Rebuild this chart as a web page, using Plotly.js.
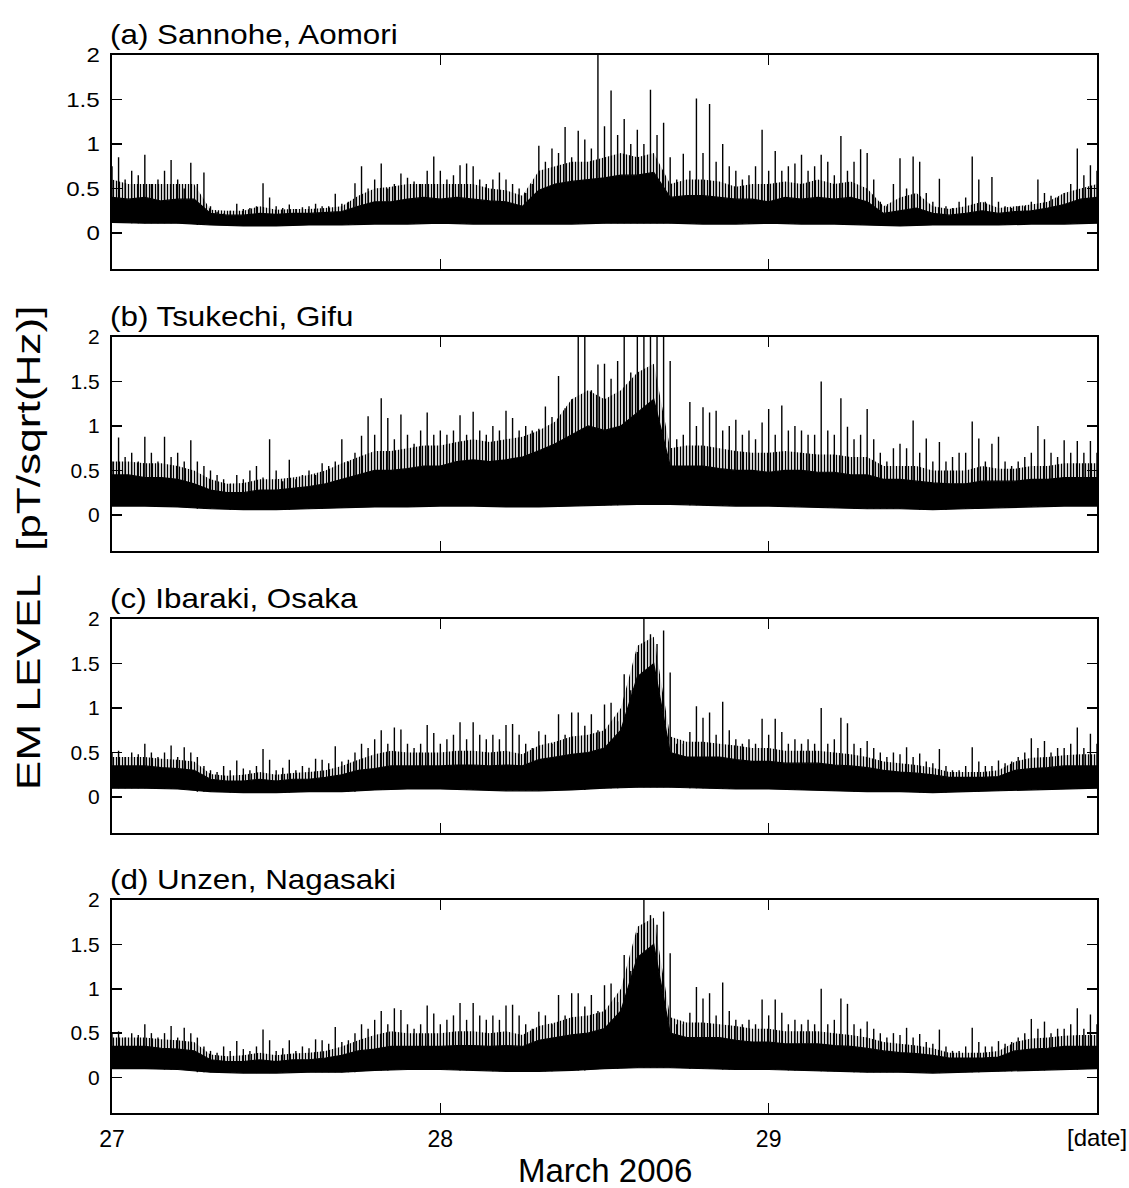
<!DOCTYPE html>
<html>
<head>
<meta charset="utf-8">
<script src="https://cdn.plot.ly/plotly-3.0.1.min.js"></script>
<style>html,body{margin:0;padding:0;background:#fff;}#chart{width:1129px;height:1188px;}</style>
</head>
<body>
<div id="chart"></div>
<script>
// ---------------- data ----------------
const stationNames = ["(a) Sannohe, Aomori", "(b) Tsukechi, Gifu", "(c) Ibaraki, Osaka", "(d) Unzen, Nagasaki"];
const xTickVals = [27, 28, 29, 30];
const xTickText = ["27", "28", "29", ""];
const xEndLabel = "[date]";
const yTickVals = [0, 0.5, 1, 1.5, 2];
const yTickText = ["0", "0.5", "1", "1.5", "2"];

// spike peaks, every 0.02 day from 27.00 to 30.00
const peakStart = 27.0, peakStep = 0.02;
// solid-band top and dense-spike level, every 0.05 day from 27.00 to 30.00
const coreStart = 27.0, coreStep = 0.05;
// lower envelope, every 0.1 day from 27.00 to 30.00
const baseStart = 27.0, baseStep = 0.1;

const sannohePeak = [
 0.75,0.85,0.6,0.7,0.65, 0.88,0.55,0.6,0.7,0.82, 0.6,0.5,0.79,0.55,0.68,
 0.3,0.24,0.22,0.25,0.33, 0.27,0.28,0.3,0.56,0.4, 0.3,0.28,0.32,0.27,0.29,
 0.3,0.33,0.3,0.3,0.44, 0.33,0.35,0.56,0.75,0.5, 0.6,0.78,0.5,0.55,0.67,
 0.62,0.58,0.55,0.7,0.86, 0.7,0.6,0.65,0.76,0.78, 0.75,0.6,0.55,0.6,0.68,
 0.6,0.55,0.5,0.45,0.55, 0.98,0.8,0.95,0.9,1.19, 0.85,1.15,1.05,0.95,2.0,
 1.2,1.6,1.1,1.28,1.0, 1.16,1.0,1.61,1.1,1.24, 0.85,0.6,0.89,0.7,1.51,
 0.9,1.45,0.8,1.0,0.75, 0.7,0.6,0.65,0.75,1.16, 0.7,0.92,0.7,0.75,0.78,
 0.88,0.7,0.75,0.88,0.8, 0.65,1.09,0.7,0.8,0.94, 0.9,0.6,0.35,0.3,0.55,
 0.84,0.5,0.86,0.8,0.45, 0.35,0.61,0.3,0.28,0.35, 0.4,0.86,0.6,0.35,0.63,
 0.35,0.3,0.28,0.3,0.3, 0.35,0.6,0.45,0.42,0.4, 0.45,0.55,0.95,0.65,0.76,
 0.7];
const sannoheDense = [
 0.6,0.55,0.55,0.55,0.55,0.55,0.26,0.25,0.25,0.3,0.26,0.27,0.27,0.28,0.3,0.42,0.5,0.52,0.55,0.55,
 0.55,0.55,0.55,0.5,0.48,0.42,0.7,0.75,0.8,0.8,0.85,0.9,0.85,0.9,0.55,0.6,0.6,0.58,0.52,0.55,
 0.55,0.58,0.55,0.6,0.55,0.58,0.5,0.3,0.4,0.45,0.3,0.27,0.3,0.35,0.28,0.3,0.32,0.35,0.45,0.5,
 0.55];
const sannoheCore = [
 0.4,0.38,0.4,0.36,0.38,0.38,0.22,0.2,0.2,0.22,0.21,0.22,0.22,0.23,0.24,0.3,0.35,0.35,0.38,0.4,
 0.38,0.4,0.38,0.36,0.35,0.3,0.48,0.55,0.58,0.6,0.62,0.65,0.65,0.68,0.4,0.42,0.42,0.4,0.38,0.38,
 0.35,0.4,0.38,0.4,0.38,0.4,0.35,0.22,0.25,0.28,0.22,0.2,0.22,0.25,0.22,0.24,0.25,0.28,0.32,0.38,
 0.4];
const sannoheBase = [0.12,0.11,0.11,0.09,0.08,0.08,0.09,0.09,0.1,0.1,0.11,0.1,0.1,0.1,0.1,0.11,
 0.11,0.11,0.1,0.1,0.11,0.1,0.1,0.09,0.08,0.09,0.09,0.09,0.1,0.1,0.11];

const tsukechiPeak = [
 0.6,0.87,0.65,0.7,0.6, 0.88,0.7,0.6,0.88,0.65, 0.7,0.6,0.84,0.6,0.55,
 0.5,0.45,0.4,0.35,0.45, 0.4,0.5,0.55,0.42,0.85, 0.5,0.38,0.62,0.4,0.45,
 0.5,0.45,0.58,0.55,0.6, 0.85,0.6,0.7,0.89,1.11, 0.9,1.31,1.09,0.85,1.13,
 0.9,0.8,0.95,1.15,0.9, 0.95,0.9,0.95,1.12,0.9, 1.16,0.95,0.9,1.0,0.95,
 1.17,1.09,0.95,1.0,0.95, 0.97,1.22,1.1,1.56,1.2, 1.3,2.0,2.0,1.4,1.69,
 1.7,1.53,1.73,2.0,1.6, 2.0,2.0,2.0,2.0,2.0, 1.73,0.85,0.9,1.27,1.0,
 1.21,1.15,1.17,0.95,1.0, 1.07,0.9,0.95,0.85,1.04, 1.19,0.9,1.23,0.95,1.0,
 0.95,0.9,0.9,1.5,0.95, 0.9,1.31,0.99,0.85,0.9, 1.19,0.85,0.7,0.6,0.75,
 0.8,0.75,1.06,0.7,0.86, 0.6,0.82,0.6,0.65,0.7, 0.7,1.05,0.86,0.6,0.8,
 0.88,0.6,0.55,0.6,0.65, 0.7,1.0,0.85,0.7,0.65, 0.84,0.7,0.83,0.7,0.83,
 0.7];
const tsukechiDense = [
 0.6,0.6,0.58,0.58,0.55,0.5,0.4,0.35,0.36,0.4,0.4,0.42,0.45,0.5,0.58,0.65,0.72,0.72,0.75,0.78,
 0.78,0.82,0.85,0.82,0.85,0.88,0.95,1.05,1.3,1.4,1.3,1.4,1.6,1.7,0.75,0.78,0.78,0.75,0.72,0.7,
 0.7,0.72,0.7,0.68,0.68,0.65,0.65,0.55,0.55,0.55,0.5,0.5,0.5,0.55,0.52,0.52,0.55,0.55,0.58,0.58,
 0.58];
const tsukechiCore = [
 0.45,0.45,0.42,0.42,0.4,0.35,0.28,0.25,0.25,0.28,0.28,0.3,0.32,0.35,0.4,0.45,0.5,0.5,0.52,0.55,
 0.55,0.6,0.62,0.6,0.62,0.65,0.72,0.8,0.9,1.0,0.95,1.0,1.15,1.3,0.55,0.55,0.55,0.52,0.5,0.5,
 0.48,0.5,0.5,0.48,0.48,0.45,0.45,0.4,0.4,0.38,0.36,0.35,0.35,0.38,0.38,0.38,0.4,0.4,0.42,0.42,
 0.42];
const tsukechiBase = [0.1,0.1,0.09,0.07,0.06,0.06,0.07,0.08,0.09,0.09,0.1,0.1,0.09,0.09,0.1,0.11,
 0.12,0.12,0.11,0.1,0.1,0.09,0.08,0.07,0.07,0.06,0.07,0.08,0.09,0.1,0.1];

const ibarakiPeak = [
 0.5,0.52,0.45,0.5,0.48, 0.6,0.5,0.45,0.5,0.58, 0.45,0.56,0.5,0.45,0.35,
 0.3,0.28,0.35,0.3,0.41, 0.32,0.3,0.35,0.54,0.42, 0.3,0.33,0.42,0.3,0.35,
 0.33,0.43,0.42,0.38,0.57, 0.4,0.42,0.5,0.6,0.55, 0.65,0.75,0.6,0.78,0.76,
 0.6,0.55,0.6,0.81,0.72, 0.6,0.65,0.7,0.84,0.65, 0.84,0.7,0.65,0.7,0.65,
 0.81,0.82,0.7,0.6,0.55, 0.74,0.7,0.6,0.93,0.7, 0.95,0.95,0.8,0.93,0.75,
 1.04,1.06,0.85,1.38,1.2, 1.63,2.0,1.83,1.72,1.87, 1.4,0.6,0.6,0.73,1.02,
 0.89,0.95,0.7,1.07,0.75, 0.65,0.6,0.65,0.6,0.88, 0.7,0.88,0.73,0.6,0.65,
 0.6,0.65,0.6,1.0,0.6, 0.65,0.89,0.83,0.6,0.55, 0.63,0.55,0.5,0.45,0.5,
 0.48,0.56,0.45,0.49,0.4, 0.38,0.54,0.35,0.3,0.3, 0.35,0.56,0.4,0.35,0.35,
 0.41,0.38,0.4,0.45,0.5, 0.66,0.55,0.63,0.5,0.55, 0.55,0.6,0.78,0.55,0.71,
 0.6];
const ibarakiDense = [
 0.45,0.45,0.45,0.43,0.42,0.4,0.26,0.24,0.25,0.28,0.25,0.27,0.28,0.3,0.35,0.42,0.48,0.52,0.5,0.5,
 0.5,0.52,0.52,0.5,0.52,0.48,0.58,0.62,0.68,0.7,0.75,1.0,1.7,1.8,0.68,0.62,0.62,0.6,0.58,0.55,
 0.55,0.52,0.52,0.52,0.5,0.48,0.45,0.4,0.38,0.36,0.33,0.28,0.28,0.28,0.3,0.4,0.44,0.45,0.47,0.48,
 0.48];
const ibarakiCore = [
 0.35,0.35,0.35,0.33,0.32,0.3,0.2,0.18,0.18,0.2,0.18,0.2,0.2,0.22,0.25,0.3,0.32,0.35,0.35,0.35,
 0.35,0.36,0.36,0.35,0.36,0.35,0.42,0.45,0.48,0.5,0.55,0.75,1.35,1.5,0.5,0.45,0.45,0.45,0.42,0.4,
 0.4,0.38,0.38,0.38,0.36,0.35,0.33,0.3,0.28,0.27,0.25,0.22,0.22,0.22,0.23,0.3,0.32,0.33,0.35,0.35,
 0.35];
const ibarakiBase = [0.1,0.1,0.09,0.06,0.05,0.05,0.06,0.06,0.08,0.09,0.09,0.08,0.07,0.07,0.08,0.1,
 0.11,0.11,0.1,0.09,0.09,0.08,0.07,0.06,0.06,0.05,0.06,0.07,0.08,0.09,0.1];

// panel (d) reads identically to panel (c) in the source figure
const unzenPeak = ibarakiPeak.slice();
const unzenDense = ibarakiDense.slice();
const unzenCore = ibarakiCore.slice();
const unzenBase = ibarakiBase.slice();

// ---------------- build traces ----------------
const panels = [
  {peak: sannohePeak, dense: sannoheDense, core: sannoheCore, base: sannoheBase},
  {peak: tsukechiPeak, dense: tsukechiDense, core: tsukechiCore, base: tsukechiBase},
  {peak: ibarakiPeak, dense: ibarakiDense, core: ibarakiCore, base: ibarakiBase},
  {peak: unzenPeak, dense: unzenDense, core: unzenCore, base: unzenBase}
];
const domains = [[0.7981, 1.0], [0.5316, 0.7335], [0.2650, 0.4669], [0.0, 0.2013]];

function times(start, step, n) {
  const t = [];
  for (let i = 0; i < n; i++) t.push(+(start + i * step).toFixed(4));
  return t;
}

const traces = [];
panels.forEach((p, k) => {
  const xa = k === 0 ? 'x' : 'x' + (k + 1);
  const ya = k === 0 ? 'y' : 'y' + (k + 1);
  const bt = times(baseStart, baseStep, p.base.length);
  const ct = times(coreStart, coreStep, p.core.length);
  const pt = times(peakStart, peakStep, p.peak.length);
  traces.push({type: 'scatter', mode: 'lines', x: bt, y: p.base, xaxis: xa, yaxis: ya,
    line: {color: '#000', width: 1.2}, hoverinfo: 'skip', showlegend: false});
  traces.push({type: 'scatter', mode: 'lines', x: ct, y: p.core, xaxis: xa, yaxis: ya,
    fill: 'tonexty', fillcolor: '#000', line: {color: '#000', width: 1.2},
    hoverinfo: 'skip', showlegend: false});
  traces.push({type: 'scatter', mode: 'lines', x: ct, y: p.dense, xaxis: xa, yaxis: ya,
    fill: 'tonexty', fillcolor: 'rgba(0,0,0,0)',
    fillpattern: {shape: '|', size: 3, solidity: 0.45, fgcolor: '#000', bgcolor: 'rgba(0,0,0,0)'},
    line: {color: 'rgba(0,0,0,0)', width: 0}, hoverinfo: 'skip', showlegend: false});
  const sx = [], sy = [];
  pt.forEach((t, i) => {
    const bi = Math.min(p.base.length - 1, Math.round((t - baseStart) / baseStep));
    sx.push(t, t, null);
    sy.push(p.base[bi], p.peak[i], null);
  });
  traces.push({type: 'scatter', mode: 'lines', x: sx, y: sy, xaxis: xa, yaxis: ya,
    connectgaps: false, line: {color: '#000', width: 1.4}, hoverinfo: 'skip', showlegend: false});
});

const font = "Liberation Sans, Arial, Helvetica, sans-serif";
const layout = {
  width: 1129, height: 1188,
  margin: {l: 112, r: 32, t: 55, b: 75},
  paper_bgcolor: '#fff', plot_bgcolor: '#fff',
  font: {family: font, color: '#000', size: 20},
  showlegend: false,
  annotations: []
};

panels.forEach((p, k) => {
  const sfx = k === 0 ? '' : String(k + 1);
  layout['xaxis' + sfx] = {
    domain: [0, 1], range: [27, 30], anchor: 'y' + sfx,
    tickvals: xTickVals, ticktext: xTickText, showticklabels: k === 3,
    ticks: 'inside', ticklen: 10, tickwidth: 1.5, tickcolor: '#000',
    showline: true, linewidth: 2, linecolor: '#000', mirror: 'ticks',
    showgrid: false, zeroline: false, tickfont: {size: 23, family: font},
    ticklabelstandoff: 4, fixedrange: true
  };
  layout['yaxis' + sfx] = {
    domain: domains[k], range: [-0.4, 2], anchor: 'x' + sfx,
    tickvals: yTickVals, ticktext: yTickText,
    ticks: 'inside', ticklen: 10, tickwidth: 1.5, tickcolor: '#000',
    showline: true, linewidth: 2, linecolor: '#000', mirror: 'ticks',
    showgrid: false, zeroline: false, tickfont: {size: 21, family: font},
    ticklabelstandoff: 6, fixedrange: true
  };
  layout.annotations.push({
    text: stationNames[k], xref: 'paper', yref: 'paper', x: -0.004, y: domains[k][1],
    xanchor: 'left', yanchor: 'bottom', align: 'left', showarrow: false, yshift: 3,
    font: {size: 28, family: font, color: '#000'}
  });
});

layout.annotations.push({
  text: xEndLabel, xref: 'x4', yref: 'paper', x: 30, y: 0,
  xanchor: 'center', yanchor: 'top', showarrow: false, yshift: -9,
  font: {size: 24, family: font, color: '#000'}
});
layout.annotations.push({
  text: 'EM LEVEL  [pT/sqrt(Hz)]', xref: 'paper', yref: 'paper', x: -0.085, y: 0.534,
  xanchor: 'center', yanchor: 'middle', textangle: -90, showarrow: false,
  font: {size: 34, family: font, color: '#000'}
});
layout.annotations.push({
  text: 'March 2006', xref: 'paper', yref: 'paper', x: 0.5, y: -0.054,
  xanchor: 'center', yanchor: 'middle', showarrow: false,
  font: {size: 33, family: font, color: '#000'}
});

// horizontal stretch of some labels, to match the wide lettering of the source
const stretch = {'EM LEVEL  [pT/sqrt(Hz)]': 1.3};
stationNames.forEach(s => { stretch[s] = 1.12; });

Plotly.newPlot('chart', traces, layout, {staticPlot: true, displayModeBar: false}).then(gd => {
  gd.querySelectorAll('text.annotation-text').forEach(t => {
    const f = stretch[t.textContent];
    if (f) {
      const w = t.getComputedTextLength();
      t.setAttribute('textLength', (w * f).toFixed(1));
      t.setAttribute('lengthAdjust', 'spacingAndGlyphs');
    }
  });
  gd.querySelectorAll('.ytick text').forEach(t => {
    const w = t.getComputedTextLength();
    t.setAttribute('textLength', (w * 1.15).toFixed(1));
    t.setAttribute('lengthAdjust', 'spacingAndGlyphs');
  });
});
</script>
</body>
</html>
